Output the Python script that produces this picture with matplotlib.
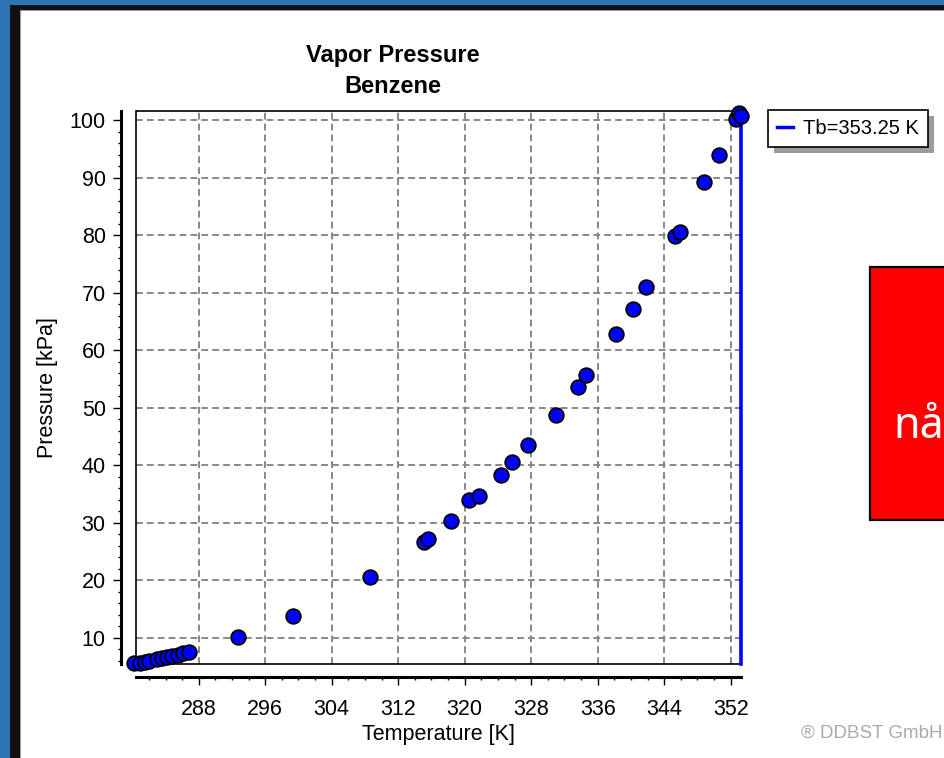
import matplotlib
matplotlib.use("Agg")
import matplotlib.pyplot as plt
from matplotlib.lines import Line2D
from matplotlib.patches import Rectangle
from matplotlib.ticker import MultipleLocator

# vapor pressure data
temp_K = [280.25, 280.93, 281.54, 282.0, 282.93, 283.53, 284.13, 284.73, 285.53,
          286.13, 286.85, 292.68, 299.29, 308.58, 315.07, 315.59, 318.32, 320.52,
          321.72, 324.41, 325.73, 327.61, 331.02, 333.66, 334.63, 338.23, 340.31,
          341.84, 345.36, 345.92, 348.85, 350.65, 352.65, 353.05, 353.2]
press_kPa = [5.51, 5.62, 5.79, 5.91, 6.21, 6.38, 6.56, 6.78, 6.96,
             7.25, 7.42, 10.03, 13.74, 20.47, 26.67, 27.13, 30.32, 33.9,
             34.66, 38.2, 40.52, 43.42, 48.64, 53.6, 55.65, 62.78, 67.07,
             71.0, 79.83, 80.58, 89.27, 94.03, 100.2, 101.3, 100.8]
Tb = 353.25
x_ticks = [288, 296, 304, 312, 320, 328, 336, 344, 352]
y_ticks = [10, 20, 30, 40, 50, 60, 70, 80, 90, 100]

plt.rcParams['font.family'] = ['Liberation Sans', 'DejaVu Sans']

W, H = 945, 758
fig = plt.figure(figsize=(W / 100, H / 100), dpi=100)
fig.patch.set_facecolor('white')

# screenshot frame: blue border + black strip
def px_rect(x0, y0, x1, y1, **kw):
    r = Rectangle((x0 / W, 1 - y1 / H), (x1 - x0) / W, (y1 - y0) / H,
                  transform=fig.transFigure, **kw)
    fig.patches.append(r)
    return r

px_rect(0, 0, W, 5, color='#2E75B6', lw=0)
px_rect(0, 0, 10, H, color='#2E75B6', lw=0)
px_rect(10, 5, W, 9.5, color='#111111', lw=0)
px_rect(10, 5, 20, H, color='#111111', lw=0)
px_rect(20, 9.5, W, 10.5, color='#9a9a9a', lw=0)
px_rect(20, 9.5, 21, H, color='#9a9a9a', lw=0)

ax = fig.add_axes([136 / W, 1 - 664 / H, 605 / W, 553 / H])

ax.axvline(Tb, color='#0000FF', lw=2.6, zorder=3, clip_on=False)
ax.plot(temp_K, press_kPa, 'o', ms=10.5, mfc='#0000FF', mec='black', mew=1.3,
        clip_on=False, zorder=5)

ax.set_xlim(280.45, 353.25)
ax.set_ylim(5.4, 101.6)
ax.set_xticks(x_ticks)
ax.set_yticks(y_ticks)
ax.xaxis.set_minor_locator(MultipleLocator(2))
ax.yaxis.set_minor_locator(MultipleLocator(2))

ax.grid(True, which='major', color='#888888', lw=1.4, ls=(0, (3.5, 2.1)))
ax.set_axisbelow(True)

for s in ['top', 'right']:
    ax.spines[s].set_visible(False)
ax.spines['left'].set_position(('outward', 10.8))
ax.spines['bottom'].set_position(('outward', 9.4))
ax.spines['left'].set_linewidth(2.2)
ax.spines['bottom'].set_linewidth(2.2)
ax.add_patch(Rectangle((0, 0), 1, 1, transform=ax.transAxes, fill=False,
                       edgecolor='black', lw=1.2, clip_on=False, zorder=2))

ax.tick_params(which='major', direction='out', length=5.5, width=1,
               labelsize=15.5)
ax.tick_params(axis='y', which='major', pad=5.5)
ax.tick_params(axis='x', which='major', pad=10)
ax.tick_params(which='minor', direction='out', length=2.5, width=1)

ax.set_xlabel('Temperature [K]', fontsize=15.5, labelpad=3)
ax.set_ylabel('Pressure [kPa]', fontsize=15.5, labelpad=8)

fig.text(393 / W, 1 - 71 / H, 'Vapor Pressure\nBenzene', ha='center',
         va='center', fontsize=17, fontweight='bold', linespacing=1.4)

# legend with offset shadow
handle = Line2D([], [], color='#0000FF', lw=2.5)
leg = fig.legend([handle], ['Tb=353.25 K'], loc='upper left',
                 bbox_to_anchor=(768 / W, 1 - 110 / H), borderaxespad=0,
                 fancybox=False, edgecolor='black', framealpha=1, fontsize=14.5,
                 handlelength=0.8, handletextpad=0.5, borderpad=0.45)
leg.get_frame().set_linewidth(1.2)
fig.canvas.draw()
bb = leg.get_window_extent()
fig.patches.append(Rectangle((bb.x0 + 6, bb.y0 - 6), bb.width, bb.height,
                             transform=None, color='#9c9c9c', lw=0, zorder=4))

# red overlay box from the slide
px_rect(870, 267, 962, 520, facecolor='#FF0000', edgecolor='black', lw=1.6,
        zorder=6)
fig.text(893 / W, 1 - 438 / H, 'når', color='white', fontsize=31,
         family='Noto Sans', va='baseline', ha='left', zorder=7)

fig.text(801 / W, 1 - 733 / H, '® DDBST GmbH', color='#ababab',
         fontsize=13.5, va='center', ha='left')

fig.savefig('out.png', dpi=100)
